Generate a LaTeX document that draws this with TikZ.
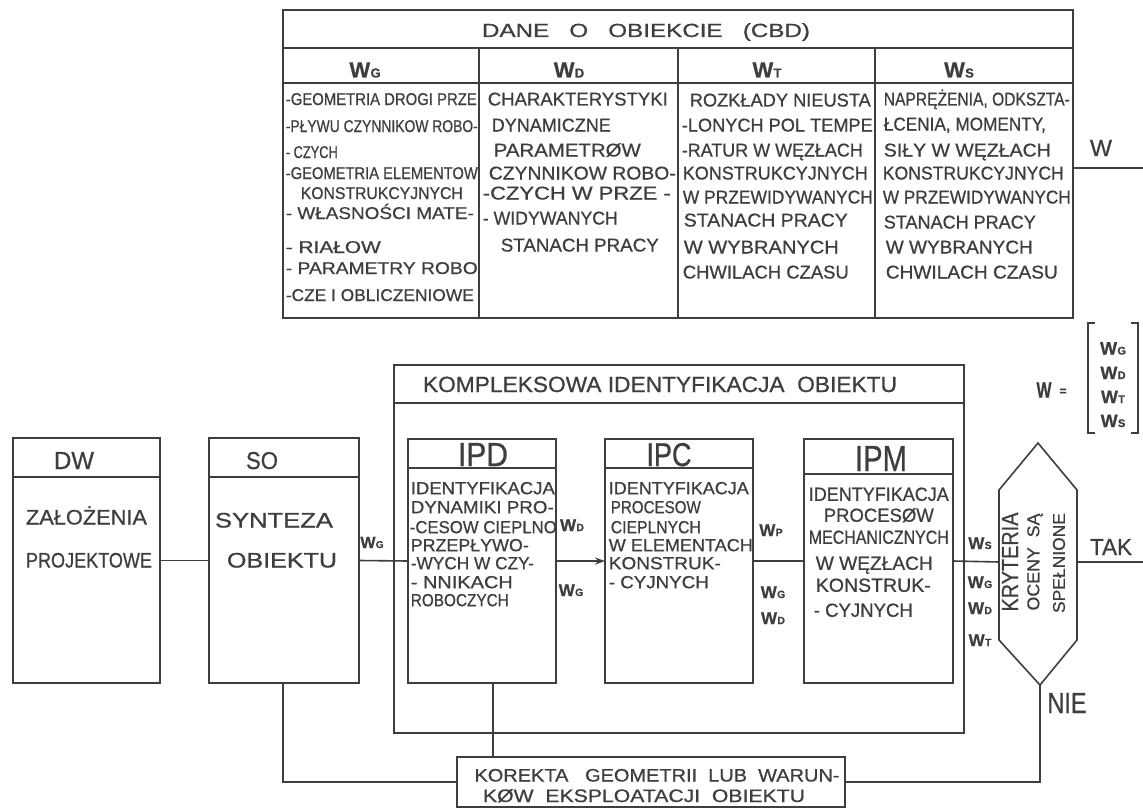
\documentclass[tikz,border=0pt]{standalone}
\usepackage{fontspec}
\setmainfont{Liberation Sans}[FakeBold=0.7]
\usepackage{graphicx}
\usetikzlibrary{arrows.meta}
\definecolor{ink}{RGB}{62,62,62}
\newcommand\fs[1]{\fontsize{#1}{#1}\selectfont}
\newcommand\fw[2]{\resizebox{#1pt}{\height}{#2}}
\newcommand\fwh[3]{\resizebox{#1pt}{#2pt}{#3}}
\newcommand\Wsb[3]{\textbf{\fs{#1}W\kern0.3pt\fs{#2}#3}}
\begin{document}
\begin{tikzpicture}[x=1pt,y=-1pt,color=ink,line width=1.6pt,
  box/.style={draw,rectangle,inner sep=0pt,outer sep=0pt},
  tl/.style={inner sep=0pt,anchor=base west,font=\fs{18.5}},
  tc/.style={inner sep=0pt,anchor=base,font=\fs{18.5}},
  lab/.style={inner sep=0pt,anchor=base},
  rot/.style={inner sep=0pt,rotate=90,font=\fs{17}}]
\fill[white] (0,0) rectangle (1143,808);
\useasboundingbox (0,0) rectangle (1143,808);

% ---------- top table ----------
\node[box,minimum width=790pt,minimum height=308pt] (cbd) at (678,164) {};
\draw (cbd.west |- 0,48) -- (cbd.east |- 0,48);
\draw (cbd.west |- 0,83) -- (cbd.east |- 0,83);
\draw (479,48) -- (479,0 |- cbd.south);
\draw (678,48) -- (678,0 |- cbd.south);
\draw (875,48) -- (875,0 |- cbd.south);
\node[tc,font=\fs{19}] (ttl) at (646,37) {\fw{328}{DANE\ \ \ O\ \ \ OBIEKCIE\ \ \ (CBD)}};
\node[lab] (hg) at (365,77.5) {\Wsb{22}{13}{G}};
\node[lab] (hd) at (569,77.5) {\Wsb{22}{13}{D}};
\node[lab] (ht) at (767,77.5) {\Wsb{22}{13}{T}};
\node[lab] (hs) at (959,77.5) {\Wsb{22}{13}{S}};

\foreach \cx/\cy/\cw/\ct [count=\i] in {
  285/99/191/{-GEOMETRIA DROGI PRZE},
  285/126/192/{-PŁYWU CZYNNIKOW ROBO-},
  285/152/52/{- CZYCH},
  285/173/192/{-GEOMETRIA ELEMENTOW},
  300/193/162/{KONSTRUKCYJNYCH},
  285/213/188/{- WŁASNOŚCI MATE-},
  285/247/95/{- RIAŁOW},
  285/268/192/{- PARAMETRY ROBO},
  285/295/188/{-CZE I OBLICZENIOWE}}
  \node[tl,font=\fs{17}] (ca\i) at (\cx,\cy+6) {\fw{\cw}{\ct}};

\foreach \cx/\cy/\cw/\ct [count=\i] in {
  487/99/180/{CHARAKTERYSTYKI},
  491/125/119/{DYNAMICZNE},
  493/150/147/{PARAMETRØW},
  488/173/187/{CZYNNIKOW ROBO-},
  482/193/188/{-CZYCH W PRZE -},
  482/218/135/{- WIDYWANYCH},
  500/245/158/{STANACH PRACY}}
  \node[tl] (cb\i) at (\cx,\cy+6.5) {\fw{\cw}{\ct}};

\foreach \cx/\cy/\cw/\ct [count=\i] in {
  689/100/181/{ROZKŁADY NIEUSTA},
  681/125/191/{-LONYCH POL TEMPE},
  681/150/181/{-RATUR W WĘZŁACH},
  682/173/185/{KONSTRUKCYJNYCH},
  682/197/190/{W PRZEWIDYWANYCH},
  683/220/164/{STANACH PRACY},
  683/247/155/{W WYBRANYCH},
  682/272/166/{CHWILACH CZASU}}
  \node[tl] (cc\i) at (\cx,\cy+6.5) {\fw{\cw}{\ct}};

\foreach \cx/\cy/\cw/\ct [count=\i] in {
  883/99/186/{NAPRĘŻENIA, ODKSZTA-},
  883/124/162/{ŁCENIA, MOMENTY,},
  883/150/167/{SIŁY W WĘZŁACH},
  882/173/181/{KONSTRUKCYJNYCH},
  882/197/188/{W PRZEWIDYWANYCH},
  883/222/152/{STANACH PRACY},
  885/247/147/{W WYBRANYCH},
  885/272/172/{CHWILACH CZASU}}
  \node[tl] (cd\i) at (\cx,\cy+6.5) {\fw{\cw}{\ct}};

\coordinate (wend) at (1143,168);
\draw (cbd.east |- wend) -- (wend);
\node[lab] (wtop) at (1101,156) {\fwh{22}{16}{W}};

% ---------- W = [ ... ] ----------
\node[lab] (weq) at (1044,397.5) {\fwh{15}{15}{\textbf{W}}};
\node[lab] (eqs) at (1063,395) {\textbf{\fs{12}=}};
\draw (1095,323) -- (1088,323) -- (1088,433) -- (1095,433);
\draw (1131,323) -- (1138,323) -- (1138,433) -- (1131,433);
\node[lab] (mg) at (1113,354.5) {\Wsb{18}{11}{G}};
\node[lab] (md) at (1113,379) {\Wsb{18}{11}{D}};
\node[lab] (mt) at (1113,403) {\Wsb{18}{11}{T}};
\node[lab] (ms) at (1113,427) {\Wsb{18}{11}{S}};

% ---------- DW and SO ----------
\node[box,minimum width=147pt,minimum height=245pt] (dw) at (86.5,560.5) {};
\draw (dw.west |- 0,477) -- (dw.east |- 0,477);
\node[tc] (dwh) at (74,469) {\fwh{40}{17}{DW}};
\node[tc,font=\fs{21}] (dw1) at (86.5,524.5) {\fw{121}{ZAŁOŻENIA}};
\node[tc,font=\fs{21}] (dw2) at (89,567.5) {\fw{126}{PROJEKTOWE}};

\node[box,minimum width=150pt,minimum height=245pt] (so) at (284,560.5) {};
\draw (so.west |- 0,477) -- (so.east |- 0,477);
\node[tc] (soh) at (262,469) {\fwh{32}{17}{SO}};
\node[tc,font=\fs{21}] (so1) at (274,527.5) {\fw{118}{SYNTEZA}};
\node[tc,font=\fs{21}] (so2) at (282,567.5) {\fw{110}{OBIEKTU}};
\node[lab] (lwg0) at (372,548) {\Wsb{16}{10}{G}};

% ---------- KOMPLEKSOWA ----------
\node[box,minimum width=570pt,minimum height=368pt] (kio) at (679,549) {};
\draw (kio.west |- 0,403) -- (kio.east |- 0,403);
\node[tc,font=\fs{22}] (kiot) at (660,392) {\fw{474}{KOMPLEKSOWA IDENTYFIKACJA\ \ OBIEKTU}};

% IPD
\node[box,minimum width=148pt,minimum height=244pt] (ipd) at (482,561) {};
\draw (ipd.west |- 0,468) -- (ipd.east |- 0,468);
\node[tc] (ipdh) at (483,466) {\fwh{50}{23}{IPD}};
\foreach \cx/\cy/\cw/\ct [count=\i] in {
  410/488/144/{IDENTYFIKACJA},
  410/507/143/{DYNAMIKI PRO-},
  409/527/147/{-CESOW CIEPLNO},
  410/545/118/{PRZEPŁYWO-},
  410/563/123/{-WYCH W CZY-},
  410/582/102/{- NNIKACH},
  410/600/98/{ROBOCZYCH}}
  \node[tl,font=\fs{17.5}] (pd\i) at (\cx,\cy+6.2) {\fw{\cw}{\ct}};

% IPC
\node[box,minimum width=148pt,minimum height=244pt] (ipc) at (679,561) {};
\draw (ipc.west |- 0,468) -- (ipc.east |- 0,468);
\node[tc] (ipch) at (669,466) {\fwh{45}{23}{IPC}};
\foreach \cx/\cy/\cw/\ct [count=\i] in {
  608/488/140/{IDENTYFIKACJA},
  610/507/90/{PROCESOW},
  610/527/90/{CIEPLNYCH},
  608/545/144/{W ELEMENTACH},
  608/563/112/{KONSTRUK-},
  608/582/100/{- CYJNYCH}}
  \node[tl,font=\fs{17.5}] (pc\i) at (\cx,\cy+6.2) {\fw{\cw}{\ct}};

% IPM
\node[box,minimum width=149pt,minimum height=244pt] (ipm) at (878.5,561) {};
\draw (ipm.west |- 0,474) -- (ipm.east |- 0,474);
\node[tc] (ipmh) at (881,471) {\fwh{52}{25}{IPM}};
\foreach \cx/\cy/\cw/\ct [count=\i] in {
  808/494/140/{IDENTYFIKACJA},
  823/515/110/{PROCESØW},
  808/537/140/{MECHANICZNYCH},
  815/563/117/{W WĘZŁACH},
  815/585/115/{KONSTRUK-},
  813/610/99/{- CYJNYCH}}
  \node[tl,font=\fs{19}] (pm\i) at (\cx,\cy+6.8) {\fw{\cw}{\ct}};

% ---------- hexagon ----------
\coordinate (hT) at (1038,443);
\coordinate (hUR) at (1077,490);
\coordinate (hLR) at (1077,640);
\coordinate (hB) at (1040,685);
\coordinate (hLL) at (999,640);
\coordinate (hUL) at (999,490);
\draw (hT) -- (hUR) -- (hLR) -- (hB) -- (hLL) -- (hUL) -- cycle;
\coordinate (hL) at (999,562);
\coordinate (hR) at (1077,562);
\node[rot] (kry) at (1010,562) {\fwh{99}{16}{KRYTERIA}};
\node[rot] (oce) at (1035,562) {\fwh{97}{12}{OCENY\ \ SĄ}};
\node[rot] (spe) at (1059,563) {\fwh{100}{12}{SPEŁNIONE}};
\coordinate (rend) at (1143,562);

% ---------- KOREKTA ----------
\node[box,minimum width=388pt,minimum height=50pt] (kor) at (651,782) {};
\node[tc,font=\fs{18}] (kor1) at (657,781.5) {\fw{365}{KOREKTA\ \ \ GEOMETRII\ \ LUB\ \ WARUN-}};
\node[tc,font=\fs{18}] (kor2) at (644,802) {\fw{322}{KØW\ \ EKSPLOATACJI\ \ OBIEKTU}};

% ---------- connectors ----------
\draw (dw.east) -- (so.west);
\draw (so.east) -- (ipd.west);
\draw[-{Stealth[length=10pt,width=7pt]}] (ipd.east) -- (ipc.west);
\draw (ipc.east) -- (ipm.west);
\draw (ipm.east) -- (hL);
\draw (hR) -- (rend);
\draw (hB) |- (kor.east);
\draw (283,0 |- so.south) |- (kor.west);
\draw (493,0 |- ipd.south) -- (493,0 |- kor.north);

% ---------- labels ----------
\node[lab] (l1) at (572,531) {\Wsb{17}{10.5}{D}};
\node[lab] (l2) at (571,596) {\Wsb{17}{10.5}{G}};
\node[lab] (l3) at (771,536) {\Wsb{17}{10.5}{P}};
\node[lab] (l4) at (773,598) {\Wsb{17}{10.5}{G}};
\node[lab] (l5) at (773,624) {\Wsb{17}{10.5}{D}};
\node[lab] (l6) at (980,549) {\Wsb{17}{10.5}{S}};
\node[lab] (l7) at (980,588) {\Wsb{17}{10.5}{G}};
\node[lab] (l8) at (980,614) {\Wsb{17}{10.5}{D}};
\node[lab] (l9) at (980,646) {\Wsb{17}{10.5}{T}};
\node[lab] (tak) at (1111,555) {\fwh{42}{16}{TAK}};
\node[lab] (nie) at (1067,713) {\fwh{39}{20}{NIE}};
\end{tikzpicture}
\end{document}
